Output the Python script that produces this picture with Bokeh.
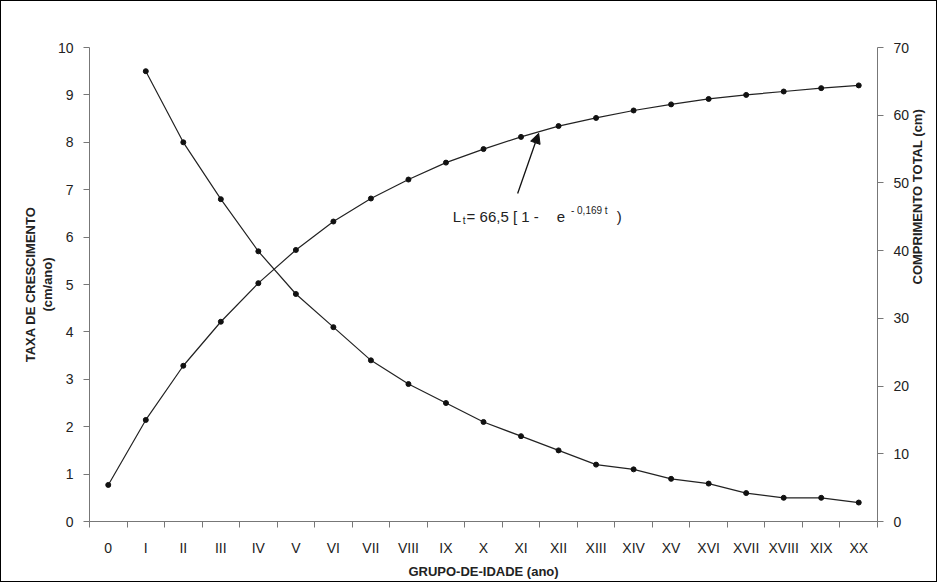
import math
from bokeh.plotting import figure
from bokeh.models import Range1d, LinearAxis, FixedTicker, Arrow, NormalHead, Title
from bokeh.core.properties import value
from bokeh.embed import file_html
from bokeh.resources import INLINE

grupos = ["0", "I", "II", "III", "IV", "V", "VI", "VII", "VIII", "IX", "X",
          "XI", "XII", "XIII", "XIV", "XV", "XVI", "XVII", "XVIII", "XIX", "XX"]
taxa = [9.5, 8.0, 6.8, 5.7, 4.8, 4.1, 3.4, 2.9, 2.5, 2.1,
        1.8, 1.5, 1.2, 1.1, 0.9, 0.8, 0.6, 0.5, 0.5, 0.4]  # I..XX
comprimento = [5.4, 15.0, 23.0, 29.5, 35.2, 40.1, 44.3, 47.7, 50.5, 53.0, 55.0,
               56.8, 58.4, 59.6, 60.7, 61.6, 62.4, 63.0, 63.5, 64.0, 64.4]

FONT = "Liberation Sans"
xs = list(range(len(grupos)))

p = figure(frame_width=788, frame_height=474, min_border_left=88, min_border_right=59,
           min_border_top=46, min_border_bottom=59,
           x_range=Range1d(-0.5, 20.5), y_range=Range1d(0, 10),
           output_backend="svg", toolbar_location=None)
p.styles = {"border": "1px solid black"}
p.extra_y_ranges = {"comp": Range1d(0, 70)}
p.grid.visible = False
p.outline_line_color = None

for txt in ["(cm/ano)", "TAXA DE CRESCIMENTO"]:
    p.add_layout(Title(text=txt, align="center", text_font=FONT, text_font_size="13px",
                       text_font_style="bold", text_color="#222222", standoff=0), "left")

p.xaxis.ticker = FixedTicker(ticks=xs, minor_ticks=[i - 0.5 for i in range(22)])
p.xaxis.major_label_overrides = {i: g for i, g in enumerate(grupos)}
p.xaxis.major_tick_out = 0
p.xaxis.major_tick_in = 0
p.xaxis.minor_tick_out = 6
p.xaxis.minor_tick_in = 0
p.xaxis.major_label_standoff = 12
p.xaxis.axis_label = "GRUPO-DE-IDADE (ano)"

p.yaxis.ticker = FixedTicker(ticks=list(range(11)))
right = LinearAxis(y_range_name="comp", ticker=FixedTicker(ticks=list(range(0, 71, 10))),
                   axis_label="COMPRIMENTO TOTAL (cm)")
right.axis_label_orientation = math.pi / 2
p.add_layout(right, "right")

for ax in p.xaxis + p.yaxis + [right]:
    ax.axis_line_color = "#777777"
    ax.major_tick_line_color = "#777777"
    ax.minor_tick_line_color = "#777777"
    ax.major_label_text_font = FONT
    ax.major_label_text_font_size = "14px"
    ax.major_label_text_color = "#222222"
    ax.axis_label_text_font = FONT
    ax.axis_label_text_font_size = "13px"
    ax.axis_label_text_font_style = "bold"
    ax.axis_label_text_color = "#222222"
for ax in p.yaxis + [right]:
    ax.minor_tick_line_color = None
    ax.major_tick_in = 0
    ax.major_tick_out = 6
    ax.major_label_standoff = 10

p.line(xs[1:], taxa, line_color="#222222", line_width=1.2)
p.scatter(xs[1:], taxa, size=5, color="#111111")
p.line(xs, comprimento, line_color="#222222", line_width=1.2, y_range_name="comp")
p.scatter(xs, comprimento, size=5, color="#111111", y_range_name="comp")

p.add_layout(Arrow(end=NormalHead(size=10, fill_color="#111111", line_color="#111111"),
                   x_start=10.91, y_start=6.92, x_end=11.47, y_end=8.19,
                   line_color="#111111", line_width=1.3))

tkw = dict(text_font=value(FONT), text_color="#222222", text_baseline="middle")
p.text([9.18], [6.43], text=["L"], text_font_size="15px", **tkw)
p.text([9.45], [6.35], text=["t"], text_font_size="10px", **tkw)
p.text([9.55], [6.43], text=["= 66,5 [ 1 -"], text_font_size="15px", **tkw)
p.text([11.95], [6.43], text=["e"], text_font_size="15px", **tkw)
p.text([12.33], [6.56], text=["- 0,169 t"], text_font_size="10px", **tkw)
p.text([13.55], [6.43], text=[")"], text_font_size="15px", **tkw)

open("out.html", "w").write(file_html(p, INLINE))
